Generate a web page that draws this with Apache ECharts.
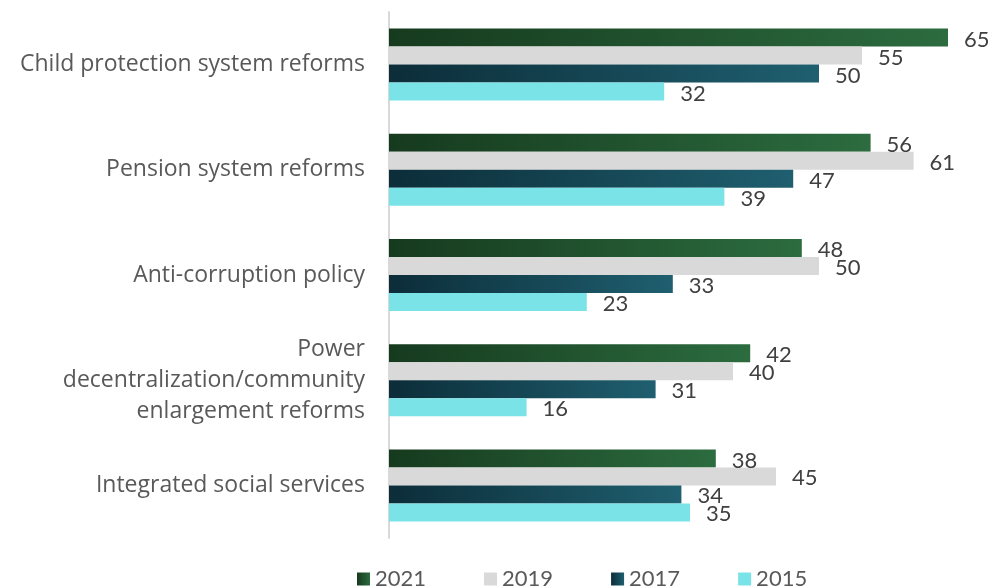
<!DOCTYPE html>
<html>
<head>
<meta charset="utf-8">
<script src="https://cdn.jsdelivr.net/npm/echarts@6/dist/echarts.min.js"></script>
<style>
  html, body { margin: 0; padding: 0; background: #fff; }
  #chart { width: 995px; height: 588px; }
</style>
</head>
<body>
<div id="chart"></div>
<script>
// Reform areas, top to bottom
const categories = [
  'Child protection system reforms',
  'Pension system reforms',
  'Anti-corruption policy',
  'Power\ndecentralization/community\nenlargement reforms',
  'Integrated social services'
];
const years = ['2021', '2019', '2017', '2015'];
const values2021 = [65, 56, 48, 42, 38];
const values2019 = [55, 61, 50, 40, 45];
const values2017 = [50, 47, 33, 31, 34];
const values2015 = [32, 39, 23, 16, 35];

const LABEL_FONT = '"Open Sans", Lato, sans-serif';
const NUM_FONT = 'Lato, "Open Sans", sans-serif';

function grad(from, to) {
  return new echarts.graphic.LinearGradient(0, 0, 1, 0, [
    { offset: 0, color: from },
    { offset: 1, color: to }
  ]);
}

const fills = [
  grad('#163a1e', '#2c6c3f'),
  '#d9d9d9',
  grad('#0c2d39', '#1f5f6f'),
  '#7ae3e8'
];

const seriesData = [values2021, values2019, values2017, values2015];

const chart = echarts.init(document.getElementById('chart'));
chart.setOption({
  animation: false,
  grid: { left: 389, right: 4, top: 12, bottom: 50, containLabel: false },
  legend: {
    data: years,
    top: 563,
    left: 352,
    itemGap: 58,
    itemWidth: 13,
    itemHeight: 13,
    icon: 'rect',
    textStyle: { fontFamily: NUM_FONT, fontSize: 22, color: '#595959' }
  },
  xAxis: {
    type: 'value',
    min: 0,
    max: 70,
    show: false
  },
  yAxis: {
    type: 'category',
    inverse: true,
    data: categories,
    axisLine: { show: true, lineStyle: { color: '#d9d9d9', width: 2 } },
    axisTick: { show: false },
    axisLabel: {
      margin: 24,
      fontFamily: LABEL_FONT,
      fontSize: 23,
      lineHeight: 31,
      color: '#595959',
      align: 'right'
    }
  },
  series: years.map((y, i) => ({
    name: y,
    type: 'bar',
    data: seriesData[i],
    barGap: '0%',
    barCategoryGap: '31.6%',
    itemStyle: { color: fills[i] },
    label: {
      show: true,
      position: 'right',
      distance: 16,
      offset: [0, 2],
      fontFamily: NUM_FONT,
      fontSize: 22,
      color: '#404040'
    }
  }))
});
</script>
</body>
</html>
